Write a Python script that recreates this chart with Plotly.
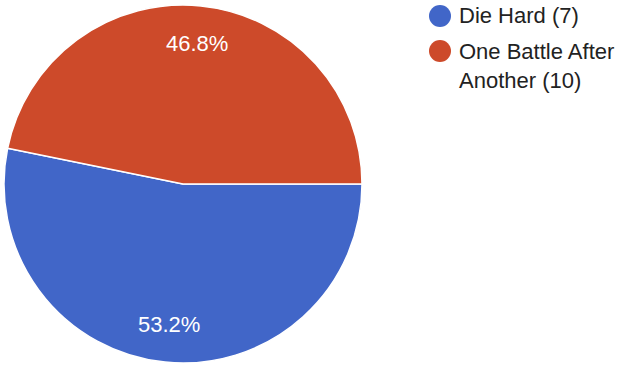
import math
import plotly.graph_objects as go

labels = ["Die Hard (7)", "One Battle After<br>Another (10)"]
percents = [53.2, 46.8]
colors = ["#4166C8", "#CD4A2A"]

W, H = 622, 367
CX, CY, R = 183, 184, 179
FONT = "Liberation Sans, Arial"

fig = go.Figure()
fig.add_trace(go.Pie(
    labels=labels,
    values=percents,
    sort=False,
    direction="clockwise",
    rotation=90,
    marker=dict(colors=colors, line=dict(color="white", width=1.5)),
    textinfo="none",
    showlegend=False,
    hoverinfo="label+percent",
    domain=dict(x=[(CX - R) / W, (CX + R) / W], y=[(H - CY - R) / H, (H - CY + R) / H]),
))

# slice labels along each slice's bisector
total = sum(percents)
start = 90.0  # degrees clockwise from 12 o'clock
for p in percents:
    sweep = 360.0 * p / total
    mid = math.radians(start + sweep / 2)
    px = CX + 0.79 * R * math.sin(mid)
    py = CY - 0.79 * R * math.cos(mid)
    fig.add_annotation(
        x=px / W, y=1 - py / H, xref="paper", yref="paper",
        text=f"{p:.1f}%", showarrow=False, xanchor="center", yanchor="middle",
        font=dict(family=FONT, size=22, color="white"),
    )
    start += sweep

# legend
legend_rows = [16, 66]
marker_rows = [16, 51]
for lab, col, ty, my in zip(labels, colors, legend_rows, marker_rows):
    fig.add_shape(
        type="circle", xref="paper", yref="paper",
        x0=(440 - 11) / W, x1=(440 + 11) / W,
        y0=1 - (my + 11) / H, y1=1 - (my - 11) / H,
        fillcolor=col, line=dict(width=0),
    )
    fig.add_annotation(
        x=457 / W, y=1 - ty / H, xref="paper", yref="paper",
        text=lab, showarrow=False, xanchor="left", yanchor="middle", align="left",
        font=dict(family=FONT, size=22, color="#222222"),
    )

fig.update_layout(
    width=W, height=H,
    margin=dict(l=0, r=0, t=0, b=0),
    paper_bgcolor="white", plot_bgcolor="white",
)
fig.write_html("out.html")
